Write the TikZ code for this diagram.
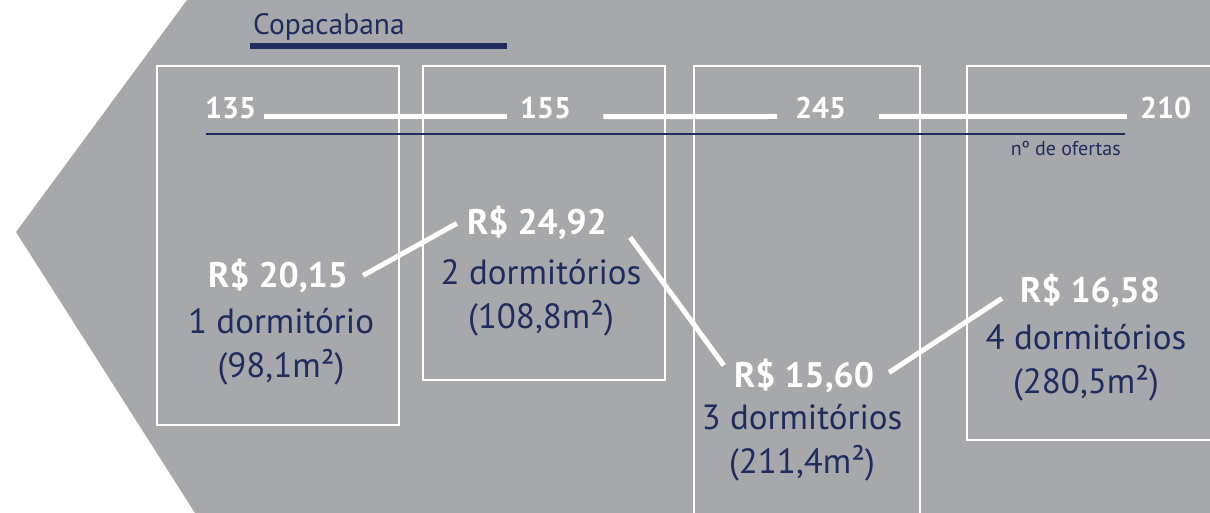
\documentclass[tikz,border=0pt]{standalone}
\usepackage{fontspec}
\setmainfont{PT Sans}
\usepackage{xcolor}
\definecolor{fundo}{HTML}{A7A8AC}
\definecolor{marinho}{HTML}{212C5E}
\tikzset{
	preco/.style={white,font=\bfseries\fontsize{35.5}{40}\selectfont,inner sep=0pt,anchor=base},
	quarto/.style={marinho,font=\fontsize{35}{44}\selectfont,align=center,inner sep=0pt,anchor=base},
	oferta/.style={white,font=\bfseries\fontsize{30}{36}\selectfont,inner sep=0pt,anchor=base west},
	caixa/.style={white,line width=1.5pt},
	ligacao/.style={white,line width=5pt},
}

\begin{document}
\begin{tikzpicture}[x=1pt,y=-1pt]
		\def\topo{66}
		\def\base{513}
		\def\yo{119}
		\useasboundingbox (0,0) rectangle (1210,\base);
		\fill[fundo] (187,0) -- (1210,0) -- (1210,\base) -- (195,\base) -- (16,232) -- cycle;
		% caixas
		\draw[caixa] (157,\topo) rectangle (399,425);
		\draw[caixa] (423,\topo) rectangle (665,380);
		\draw[caixa] (694,\base) -- (694,\topo) -- (920,\topo) -- (920,\base);
		\draw[caixa] (1210,\topo) -- (967,\topo) -- (967,440) -- (1210,440);
		% titulo
		\node[marinho,font=\fontsize{29.5}{34}\selectfont,inner sep=0pt,anchor=base west] (bairro) at (253,35) {Copacabana};
		\draw[marinho,line width=6pt] (250,46) -- (507,46);
		% ofertas
		\node[oferta] (o1) at (205,\yo) {135};
		\node[oferta] (o2) at (520,\yo) {155};
		\node[oferta] (o3) at (795,\yo) {245};
		\node[oferta] (o4) at (1140,\yo) {210};
		\draw[ligacao] ([xshift=8pt,yshift=-8pt]o1.east) -- ([xshift=-13pt,yshift=-8pt]o2.west);
		\draw[ligacao] ([xshift=32pt,yshift=-8pt]o2.east) -- ([xshift=-18pt,yshift=-8pt]o3.west);
		\draw[ligacao] ([xshift=33pt,yshift=-8pt]o3.east) -- ([xshift=-13pt,yshift=-8pt]o4.west);
		\draw[marinho,line width=2pt] (206,134) -- (1125,134);
		\node[marinho,font=\fontsize{20}{24}\selectfont,inner sep=0pt,anchor=base east] (legenda) at (1121,156) {nº de ofertas};
		% precos
		\node[preco] (p1) at (278,287) {R\$ 20,15};
		\node[preco] (p2) at (537,235) {R\$ 24,92};
		\node[preco] (p3) at (804,387) {R\$ 15,60};
		\node[preco] (p4) at (1090,302) {R\$ 16,58};
		\node[quarto] (q1) at (281,377) {1 dormitório\\(98,1m²)};
		\node[quarto] (q2) at (541,328) {2 dormitórios\\(108,8m²)};
		\node[quarto] (q3) at (802,473) {3 dormitórios\\(211,4m²)};
		\node[quarto] (q4) at (1086,393) {4 dormitórios\\(280,5m²)};
		\draw[ligacao] ([xshift=15pt]p1.east) -- ([xshift=-10pt]p2.west);
		\draw[ligacao] ([xshift=23pt,yshift=-14pt]p2.east) -- ([xshift=-10pt,yshift=10pt]p3.west);
		\draw[ligacao] ([xshift=15pt,yshift=3pt]p3.east) -- ([xshift=-18pt,yshift=-8pt]p4.west);
		%\draw[ligacao] (p1) -- (p2);
\end{tikzpicture}
\end{document}
